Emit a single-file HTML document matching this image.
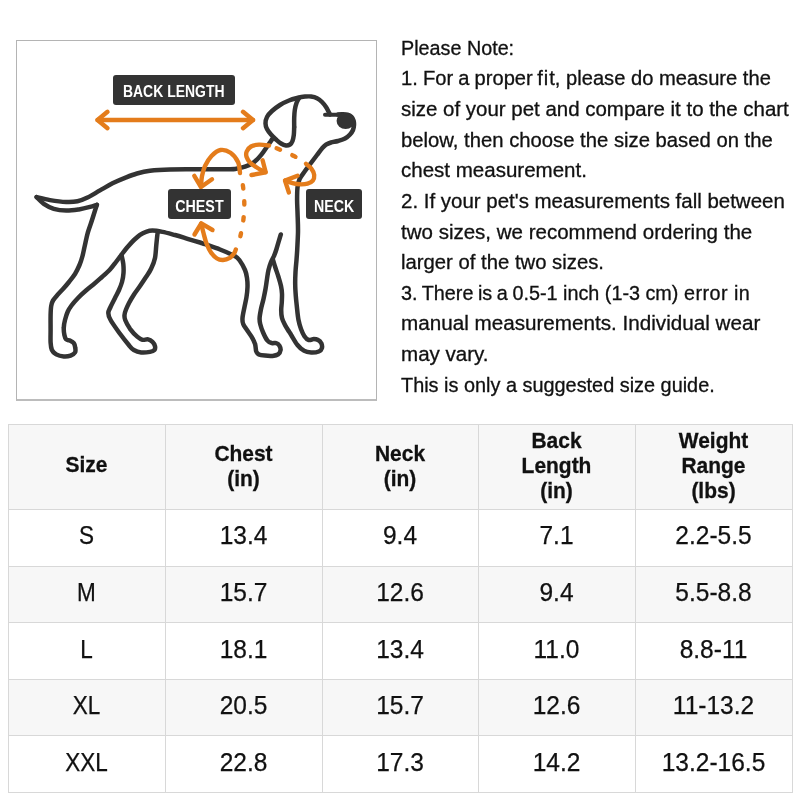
<!DOCTYPE html>
<html><head><meta charset="utf-8"><title>Size Guide</title>
<style>
html,body{margin:0;padding:0;background:#fff}
body{width:800px;height:800px;position:relative;overflow:hidden;font-variant-ligatures:none;font-kerning:normal;font-family:"Liberation Sans",sans-serif;color:#111}
.box{position:absolute;left:16px;top:40px;width:359px;height:358px;border:1px solid #b4b4b4;border-bottom:2px solid #bcbcbc;box-sizing:content-box}
.ln{position:absolute;left:400.7px;white-space:pre;font-size:19.3px;line-height:24px;height:24px;transform-origin:0 50%;color:#111;-webkit-text-stroke:0.3px #111}
.layer{position:absolute;left:0;top:0;width:800px;height:800px;will-change:transform;transform:translateZ(0)}
.bg{position:absolute;background:#f7f7f7}
.vl{position:absolute;width:1px;background:#d8d8d8}
.hl{position:absolute;height:1px;background:#d8d8d8}
.th{position:absolute;text-align:center;transform:scaleX(.97);font-weight:bold;font-size:21.6px;line-height:25px;height:25px;color:#111;white-space:pre;-webkit-text-stroke:0.3px #111}
.td{position:absolute;text-align:center;transform:scaleX(.98);font-size:25px;line-height:30px;height:30px;color:#111;white-space:pre;-webkit-text-stroke:0.25px #111}
.lab{position:absolute;background:#333333;color:#fff;font-weight:bold;border-radius:3px;text-align:center;white-space:pre}
</style></head><body>
<div class="box"></div>
<svg width="800" height="800" viewBox="0 0 800 800" style="position:absolute;left:0;top:0">
<g fill="none" stroke="#333333" stroke-width="4.5" stroke-linecap="round" stroke-linejoin="round">
<path d="M36.6 197.1C38.8 197.6 45.1 199.3 50.0 200.1C54.9 200.9 61.7 201.8 66.2 202.0C70.8 202.2 74.0 202.0 77.5 201.3C81.0 200.6 83.8 199.4 87.5 197.6C91.2 195.8 95.8 192.8 100.0 190.4C104.2 188.0 108.3 185.4 112.5 183.3C116.7 181.2 120.9 179.4 125.0 177.8C129.1 176.2 132.8 174.7 137.0 173.5C141.2 172.3 144.5 171.4 150.0 170.7C155.5 170.0 161.7 169.6 170.0 169.4C178.3 169.2 190.0 169.3 200.0 169.3C210.0 169.3 224.0 169.3 230.0 169.2C236.0 169.1 233.8 169.1 236.2 168.7C238.8 168.3 242.1 167.8 245.0 166.7C247.9 165.6 251.0 164.3 253.8 162.3C256.5 160.3 259.0 157.5 261.2 154.8C263.5 152.1 265.6 148.7 267.5 146.0C269.4 143.3 271.7 140.0 272.5 138.8"/><path d="M36.6 197.1C37.8 198.2 40.9 201.8 43.8 203.8C46.6 205.7 50.0 207.6 53.8 208.8C57.5 209.9 62.1 210.5 66.2 210.6C70.4 210.7 74.8 210.0 78.8 209.4C82.7 208.8 87.0 207.7 90.0 206.9C93.0 206.1 95.8 205.1 96.9 204.8"/><path d="M96.9 204.8C96.5 206.0 95.4 209.3 94.4 212.5C93.4 215.7 91.8 220.8 90.7 224.0C89.6 227.2 88.7 229.7 88.0 232.0C87.3 234.3 87.1 235.5 86.5 238.0C85.9 240.5 85.2 244.0 84.5 247.0C83.8 250.0 83.3 253.0 82.5 256.0C81.7 259.0 80.8 262.0 79.5 265.0C78.2 268.0 76.8 271.2 75.0 274.0C73.2 276.8 71.0 279.5 69.0 282.0C67.0 284.5 65.0 286.8 63.0 289.0C61.0 291.2 58.7 293.6 57.0 295.5C55.3 297.4 54.0 298.8 53.0 300.5C52.0 302.2 51.6 303.6 51.2 306.0C50.8 308.4 50.7 311.0 50.6 315.0C50.5 319.0 50.6 325.4 50.6 330.0C50.6 334.6 50.4 339.2 50.6 342.5C50.8 345.8 51.0 348.0 51.9 350.0C52.8 352.0 54.3 353.3 56.2 354.4C58.2 355.5 61.4 356.3 63.8 356.5C66.1 356.7 68.7 356.3 70.6 355.6C72.5 354.9 74.2 353.9 75.0 352.5C75.8 351.1 75.5 349.1 75.2 347.5C75.0 345.9 74.6 344.2 73.8 343.1C72.9 342.0 71.2 341.2 70.0 340.6C68.8 340.0 67.2 340.3 66.2 339.4C65.3 338.5 64.8 337.0 64.4 335.0C64.0 333.0 63.6 330.0 63.8 327.5C63.9 325.0 64.3 322.7 65.0 320.0C65.7 317.3 66.7 313.9 67.8 311.5C68.9 309.1 69.8 307.8 71.5 305.5C73.2 303.2 75.6 300.5 78.0 298.0C80.4 295.5 83.3 292.8 86.0 290.5C88.7 288.2 91.3 286.2 94.0 284.0C96.7 281.8 99.3 279.4 102.0 277.0C104.7 274.6 107.7 272.0 110.0 269.5C112.3 267.0 114.0 264.6 116.0 262.0C118.0 259.4 120.0 256.6 122.0 254.0C124.0 251.4 126.0 248.8 128.0 246.5C130.0 244.2 132.0 241.9 134.0 240.0C136.0 238.1 138.0 236.2 140.0 234.8C142.0 233.4 143.9 232.5 146.0 231.8C148.1 231.1 149.8 230.6 152.5 230.6C155.2 230.6 158.8 231.2 162.5 231.9C166.2 232.6 170.8 233.9 175.0 235.0C179.2 236.1 183.3 237.5 187.5 238.8C191.7 240.0 197.1 241.6 200.0 242.5C202.9 243.4 201.7 243.1 205.0 244.2C208.3 245.4 215.0 247.5 220.0 249.5C225.0 251.5 231.7 254.3 235.0 256.2C238.3 258.2 238.3 258.7 240.0 261.0C241.7 263.3 243.8 267.2 245.0 270.0C246.2 272.8 246.6 275.2 247.0 278.0C247.4 280.8 247.6 283.8 247.5 287.0C247.4 290.2 247.0 293.7 246.5 297.0C246.0 300.3 245.2 303.5 244.5 307.0C243.8 310.5 242.7 315.2 242.5 318.0C242.3 320.8 242.4 322.0 243.2 324.0C243.9 326.0 245.7 328.0 247.0 330.0C248.3 332.0 249.9 334.0 251.2 336.2C252.6 338.5 254.2 341.2 255.0 343.8C255.8 346.2 255.6 349.5 256.2 351.2C256.9 353.0 257.3 353.7 258.8 354.4C260.2 355.1 262.7 355.4 265.0 355.6C267.3 355.9 270.3 356.1 272.5 355.9C274.7 355.7 276.8 355.4 278.1 354.4C279.5 353.4 280.4 351.5 280.6 350.0C280.8 348.5 280.1 346.8 279.4 345.6C278.7 344.5 277.5 343.5 276.2 343.1C275.0 342.7 273.4 343.5 271.9 343.1C270.4 342.7 269.0 342.4 267.5 340.6C266.0 338.8 264.3 335.3 263.1 332.5C261.9 329.7 260.8 326.4 260.2 324.0C259.6 321.6 259.5 320.5 259.6 318.0C259.7 315.5 260.4 312.2 261.0 309.0C261.6 305.8 262.8 302.3 263.5 299.0C264.2 295.7 264.9 292.3 265.5 289.0C266.1 285.7 266.5 282.2 267.0 279.0C267.5 275.8 267.8 272.8 268.5 270.0C269.2 267.2 270.1 264.3 271.0 262.0C271.9 259.7 273.1 258.2 274.0 256.0C274.9 253.8 275.4 252.6 276.5 249.0C277.6 245.4 280.0 236.9 280.8 234.5"/><path d="M121.5 255.0C121.8 256.5 123.0 261.0 123.3 264.0C123.6 267.0 123.7 270.0 123.5 273.0C123.3 276.0 122.8 279.2 122.0 282.0C121.2 284.8 120.2 287.3 119.0 290.0C117.8 292.7 116.4 295.2 115.0 298.0C113.6 300.8 111.6 304.5 110.5 307.0C109.4 309.5 108.3 310.8 108.3 313.0C108.3 315.2 108.6 316.5 110.6 320.0C112.5 323.5 117.0 329.6 120.0 333.8C123.0 337.9 126.5 342.3 128.8 345.0C131.0 347.7 131.7 348.8 133.8 350.0C135.8 351.2 138.5 352.2 141.2 352.5C144.0 352.8 147.8 352.3 150.0 351.9C152.2 351.5 153.6 350.9 154.4 350.0C155.2 349.1 155.3 347.6 155.0 346.2C154.7 344.9 153.7 343.0 152.5 341.9C151.3 340.8 149.8 339.8 148.1 339.4C146.4 339.0 144.3 340.2 142.5 339.8C140.7 339.3 139.6 338.7 137.5 336.9C135.4 335.1 132.1 331.6 130.0 328.8C128.0 325.9 126.1 322.3 125.2 320.0C124.3 317.7 124.4 316.8 124.5 315.0C124.6 313.2 125.2 311.5 126.0 309.5C126.8 307.5 127.7 305.5 129.0 303.0C130.3 300.5 132.2 297.3 134.0 294.5C135.8 291.7 138.0 288.9 140.0 286.0C142.0 283.1 144.1 279.9 146.0 277.0C147.9 274.1 149.8 271.7 151.2 268.5C152.8 265.3 154.2 261.9 155.0 258.0C155.8 254.1 155.9 249.0 156.3 245.0C156.7 241.0 157.2 236.0 157.5 233.8C157.8 231.5 158.1 231.9 158.2 231.5"/><path d="M273.0 260.0C273.4 261.3 274.6 265.2 275.5 268.0C276.4 270.8 277.6 274.0 278.5 277.0C279.4 280.0 280.4 283.2 281.0 286.0C281.6 288.8 281.9 291.3 282.0 294.0C282.1 296.7 281.9 299.3 281.8 302.0C281.7 304.7 281.2 307.3 281.2 310.0C281.2 312.7 281.4 315.5 282.0 318.0C282.6 320.5 284.0 323.0 285.0 325.0C286.0 327.0 287.0 328.3 288.0 330.0C289.0 331.7 289.7 332.5 291.2 335.0C292.8 337.5 295.4 342.4 297.5 345.0C299.6 347.6 301.5 349.4 303.8 350.6C306.0 351.9 308.8 352.4 311.2 352.5C313.8 352.6 317.0 352.2 318.8 351.5C320.5 350.8 321.5 349.5 321.9 348.1C322.3 346.7 321.9 344.5 321.2 343.1C320.6 341.8 319.4 340.7 318.1 340.0C316.9 339.3 315.3 339.0 313.8 339.0C312.2 339.0 310.3 340.5 308.8 340.0C307.2 339.5 305.7 338.1 304.4 336.2C303.1 334.4 302.0 331.7 301.0 329.0C300.0 326.3 299.2 323.5 298.5 320.0C297.8 316.5 297.4 312.0 297.0 308.0C296.6 304.0 296.1 300.0 295.8 296.0C295.5 292.0 295.2 288.0 295.2 284.0C295.1 280.0 295.3 276.0 295.5 272.0C295.7 268.0 296.2 263.7 296.5 260.0C296.8 256.3 296.9 254.7 297.2 250.0C297.4 245.3 297.9 237.8 298.0 232.0C298.1 226.2 297.8 220.3 297.6 215.0C297.5 209.7 297.1 204.6 297.1 200.0C297.1 195.4 297.1 191.0 297.5 187.5C297.9 184.0 298.4 181.8 299.6 179.0C300.9 176.2 303.1 173.7 305.0 171.0C306.9 168.3 309.0 165.7 311.0 163.0C313.0 160.3 315.2 157.4 317.0 155.0C318.8 152.6 320.5 150.2 322.0 148.5C323.5 146.8 324.5 145.6 326.0 144.6C327.5 143.6 329.0 143.1 331.0 142.5C333.0 141.9 335.7 141.7 338.0 141.0C340.3 140.3 343.0 139.6 345.0 138.5C347.0 137.4 348.7 135.9 350.0 134.5C351.3 133.1 352.3 131.6 353.0 130.0C353.7 128.4 353.9 126.6 354.0 125.0C354.1 123.4 354.0 121.9 353.6 120.5C353.2 119.1 352.5 117.8 351.5 116.8C350.5 115.8 349.1 115.0 347.5 114.6C345.9 114.2 343.6 114.3 342.0 114.3C340.4 114.3 338.7 114.5 338.0 114.6"/><path d="M294.2 127.0C294.1 128.3 294.1 132.7 293.8 135.0C293.5 137.3 293.1 139.4 292.5 141.0C291.9 142.6 291.1 143.8 290.0 144.5C288.9 145.2 287.5 145.7 286.0 145.5C284.5 145.3 282.7 144.5 281.0 143.5C279.3 142.5 277.7 141.0 276.0 139.5C274.3 138.0 272.5 136.2 271.0 134.5C269.5 132.8 267.9 130.8 267.0 129.0C266.1 127.2 265.5 125.5 265.5 123.5C265.5 121.5 265.9 119.1 267.0 117.0C268.1 114.9 269.8 113.0 272.0 111.0C274.2 109.0 277.2 106.8 280.0 105.0C282.8 103.2 286.0 101.7 289.0 100.5C292.0 99.3 295.3 98.5 298.0 97.8C300.7 97.1 302.8 96.8 305.0 96.6C307.2 96.4 309.0 96.2 311.0 96.5C313.0 96.8 315.2 97.3 317.0 98.2C318.8 99.1 320.5 100.5 322.0 102.0C323.5 103.5 324.8 105.2 326.0 107.0C327.2 108.8 328.3 111.2 329.0 112.5C329.7 113.8 329.8 114.2 330.0 114.5"/><path d="M299.0 98.0C298.6 98.8 297.2 101.0 296.5 103.0C295.8 105.0 295.2 107.5 294.8 110.0C294.4 112.5 294.3 115.2 294.2 118.0C294.1 120.8 294.2 125.5 294.2 127.0"/>
<path d="M325 114.8H341" stroke-width="4"/>
</g>
<ellipse cx="345.6" cy="120.9" rx="9" ry="8.1" fill="#333333"/>
<g fill="none" stroke="#e47c1b" stroke-width="4.4" stroke-linecap="round" stroke-linejoin="round"><path d="M240.0 173.0C239.7 171.2 239.6 165.4 238.0 162.0C236.4 158.6 233.4 154.8 230.5 152.8C227.6 150.8 223.7 149.5 220.5 150.0C217.3 150.5 214.1 153.3 211.5 156.0C208.9 158.7 206.6 162.7 205.0 166.0C203.4 169.3 202.7 172.6 202.0 176.0C201.3 179.4 201.2 184.8 201.0 186.5"/><path d="M235.8 249.5C235.5 250.1 235.2 251.9 234.2 253.2C233.2 254.6 231.6 256.6 229.8 257.8C227.9 258.9 225.1 259.9 223.0 260.0C220.9 260.1 219.0 259.8 217.0 258.5C215.0 257.2 212.8 255.0 211.0 252.5C209.2 250.0 207.8 246.8 206.5 243.5C205.2 240.2 204.4 236.3 203.5 233.0C202.6 229.7 201.6 225.2 201.2 223.7"/><path d="M269.0 145.5C267.3 145.3 262.0 144.4 259.0 144.6C256.0 144.8 253.1 145.3 251.0 146.5C248.9 147.7 247.4 149.8 246.7 151.5C246.0 153.2 246.0 155.2 246.6 157.0C247.2 158.8 248.4 160.8 250.0 162.5C251.6 164.2 254.0 165.7 256.0 167.0C258.0 168.3 260.4 169.7 262.0 170.5C263.6 171.3 264.8 171.8 265.3 172.0"/><path d="M306.0 163.8C306.9 164.6 310.1 166.9 311.5 168.8C312.9 170.6 314.0 173.0 314.2 175.0C314.4 177.0 313.9 179.2 312.8 180.6C311.7 182.0 309.6 183.0 307.5 183.6C305.4 184.2 302.5 184.4 300.0 184.3C297.5 184.2 295.0 183.7 292.5 183.1C290.0 182.5 286.4 181.0 285.2 180.6"/><path d="M194.3 175.8L201 187L212 179.2"/><path d="M194.5 234.5L201.25 223.3L212.5 230"/><path d="M262.6 160.3L265.7 172.3L251.5 175"/><path d="M297.5 175.7L285 180.6L288.9 192.5"/><path d="M97.5 120H253"/><path d="M107.5 111.8L97.5 120L107.5 128.2"/><path d="M243 111.8L253 120L243 128.2"/></g><g fill="none" stroke="#e47c1b" stroke-width="4.4" stroke-linecap="round" stroke-linejoin="round" stroke-dasharray="3.4 12.6"><path d="M240.0 173.0C240.5 175.3 242.4 182.0 243.1 187.0C243.8 192.0 244.2 197.6 244.3 203.0C244.4 208.4 244.1 214.0 243.4 219.5C242.8 225.0 241.4 231.7 240.4 236.0C239.4 240.3 237.8 243.9 237.3 245.5" stroke-dashoffset="-12.5"/><path d="M276.0 148.0C279.0 149.3 289.4 153.6 294.0 156.0C298.6 158.4 301.8 161.2 303.3 162.2" stroke-dasharray="3.6 13.1" stroke-dashoffset="-0.9"/></g>
</svg>
<div class="layer">
<div class="lab" style="left:113.3px;top:75.4px;width:121.6px;height:29.2px;line-height:34.4px;font-size:15.6px"><span style="display:inline-block;transform:scaleX(0.895)">BACK LENGTH</span></div>
<div class="lab" style="left:167.9px;top:189.3px;width:63.5px;height:30.0px;line-height:35.2px;font-size:15.6px"><span style="display:inline-block;transform:scaleX(0.915)">CHEST</span></div>
<div class="lab" style="left:305.8px;top:189.3px;width:56.2px;height:30.0px;line-height:35.2px;font-size:15.6px"><span style="display:inline-block;transform:scaleX(0.91)">NECK</span></div>

<div class="ln" id="ln0" style="top:36.82px;transform:scaleX(1.0245)">Please Note:</div>
<div class="ln" id="ln1" style="top:67.45px;transform:scaleX(1.0442)"><span style="word-spacing:-0.45px">1. For a proper </span><span style="letter-spacing:0.9px;margin-left:-0.6px">fi</span>t, please do measure the</div>
<div class="ln" id="ln2" style="top:98.08px;transform:scaleX(1.0611)">size of your pet and compare it to the chart</div>
<div class="ln" id="ln3" style="top:128.71px;transform:scaleX(1.0508)">below, then choose the size based on the</div>
<div class="ln" id="ln4" style="top:159.34px;transform:scaleX(1.0641)">chest measurement.</div>
<div class="ln" id="ln5" style="top:189.97px;transform:scaleX(1.0612)">2. If your pet&#39;s measurements fall between</div>
<div class="ln" id="ln6" style="top:220.60px;transform:scaleX(1.0641)">two sizes, we recommend ordering the</div>
<div class="ln" id="ln7" style="top:251.23px;transform:scaleX(1.0521)">larger of the two sizes.</div>
<div class="ln" id="ln8" style="top:281.86px;transform:scaleX(1.0261)"><span style="word-spacing:-0.9px">3. There is a </span>0.5-1 inch (1-3 cm) <span style="letter-spacing:0.45px">error in</span></div>
<div class="ln" id="ln9" style="top:312.49px;transform:scaleX(1.0711)">manual measurements. Individual wear</div>
<div class="ln" id="ln10" style="top:343.12px;transform:scaleX(1.0663)">may vary.</div>
<div class="ln" id="ln11" style="top:373.75px;transform:scaleX(1.0307)">This is only a suggested size guide.</div>

<div class="bg" style="left:8px;top:424px;width:785px;height:85px"></div>
<div class="bg" style="left:8px;top:566px;width:785px;height:56px"></div>
<div class="bg" style="left:8px;top:679px;width:785px;height:56px"></div>
<div class="vl" style="left:8px;top:424px;height:369px"></div>
<div class="vl" style="left:165px;top:424px;height:369px"></div>
<div class="vl" style="left:322px;top:424px;height:369px"></div>
<div class="vl" style="left:478px;top:424px;height:369px"></div>
<div class="vl" style="left:635px;top:424px;height:369px"></div>
<div class="vl" style="left:792px;top:424px;height:369px"></div>
<div class="hl" style="left:8px;top:424px;width:785px"></div>
<div class="hl" style="left:8px;top:509px;width:785px"></div>
<div class="hl" style="left:8px;top:566px;width:785px"></div>
<div class="hl" style="left:8px;top:622px;width:785px"></div>
<div class="hl" style="left:8px;top:679px;width:785px"></div>
<div class="hl" style="left:8px;top:735px;width:785px"></div>
<div class="hl" style="left:8px;top:792px;width:785px"></div>
<div class="th" style="left:8px;width:157px;top:452.16px">Size</div>
<div class="th" style="left:165px;width:157px;top:440.76px">Chest</div>
<div class="th" style="left:165px;width:157px;top:465.76px">(in)</div>
<div class="th" style="left:322px;width:156px;top:440.76px">Neck</div>
<div class="th" style="left:322px;width:156px;top:465.76px">(in)</div>
<div class="th" style="left:478px;width:157px;top:427.66px">Back</div>
<div class="th" style="left:478px;width:157px;top:452.66px">Length</div>
<div class="th" style="left:478px;width:157px;top:477.66px">(in)</div>
<div class="th" style="left:635px;width:157px;top:427.66px">Weight</div>
<div class="th" style="left:635px;width:157px;top:452.66px">Range</div>
<div class="th" style="left:635px;width:157px;top:477.66px">(lbs)</div>
<div class="td" style="left:8px;width:157px;top:520.49px;transform:scaleX(.9)">S</div>
<div class="td" style="left:165px;width:157px;top:520.49px">13.4</div>
<div class="td" style="left:322px;width:156px;top:520.49px">9.4</div>
<div class="td" style="left:478px;width:157px;top:520.49px">7.1</div>
<div class="td" style="left:635px;width:157px;top:520.49px">2.2-5.5</div>
<div class="td" style="left:8px;width:157px;top:577.09px;transform:scaleX(.9)">M</div>
<div class="td" style="left:165px;width:157px;top:577.09px">15.7</div>
<div class="td" style="left:322px;width:156px;top:577.09px">12.6</div>
<div class="td" style="left:478px;width:157px;top:577.09px">9.4</div>
<div class="td" style="left:635px;width:157px;top:577.09px">5.5-8.8</div>
<div class="td" style="left:8px;width:157px;top:633.69px;transform:scaleX(.9)">L</div>
<div class="td" style="left:165px;width:157px;top:633.69px">18.1</div>
<div class="td" style="left:322px;width:156px;top:633.69px">13.4</div>
<div class="td" style="left:478px;width:157px;top:633.69px">11.0</div>
<div class="td" style="left:635px;width:157px;top:633.69px">8.8-11</div>
<div class="td" style="left:8px;width:157px;top:690.29px;transform:scaleX(.9)">XL</div>
<div class="td" style="left:165px;width:157px;top:690.29px">20.5</div>
<div class="td" style="left:322px;width:156px;top:690.29px">15.7</div>
<div class="td" style="left:478px;width:157px;top:690.29px">12.6</div>
<div class="td" style="left:635px;width:157px;top:690.29px">11-13.2</div>
<div class="td" style="left:8px;width:157px;top:746.89px;transform:scaleX(.9)">XXL</div>
<div class="td" style="left:165px;width:157px;top:746.89px">22.8</div>
<div class="td" style="left:322px;width:156px;top:746.89px">17.3</div>
<div class="td" style="left:478px;width:157px;top:746.89px">14.2</div>
<div class="td" style="left:635px;width:157px;top:746.89px">13.2-16.5</div>

</div>
</body></html>
